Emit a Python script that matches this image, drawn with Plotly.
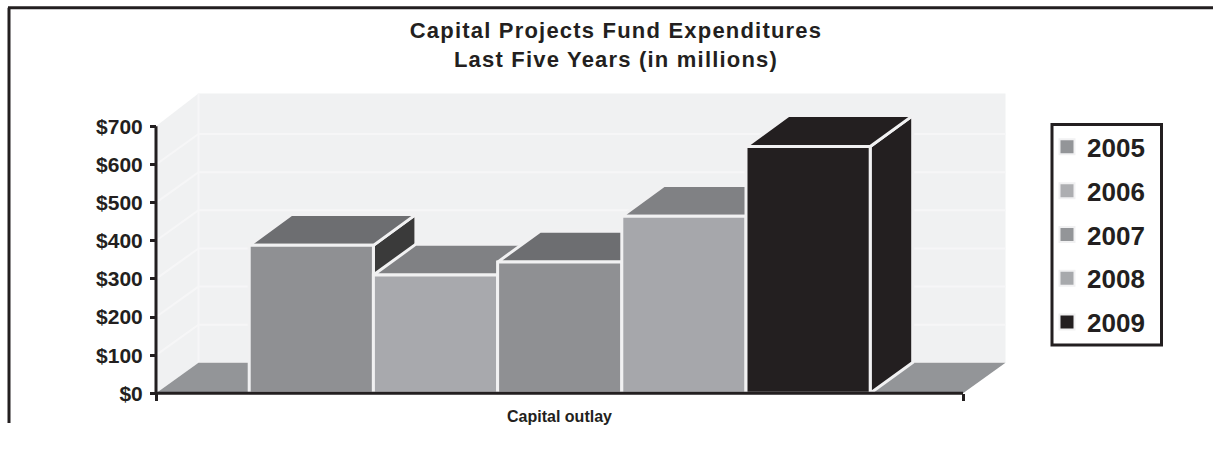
import plotly.graph_objects as go

# --- data ---
years = ["2005", "2006", "2007", "2008", "2009"]
values = [388, 310, 344, 464, 647]
y_ticks = [0, 100, 200, 300, 400, 500, 600, 700]
y_tick_labels = ["$0", "$100", "$200", "$300", "$400", "$500", "$600", "$700"]
category = "Capital outlay"

front_colors = ["#8f9093", "#a8a9ad", "#8f9093", "#a6a7ab", "#231f20"]
top_colors = ["#6d6e71", "#808184", "#6d6e71", "#808184", "#231f20"]
side_colors = ["#3a3a3a", "#3a3a3a", "#3a3a3a", "#3a3a3a", "#231f20"]
legend_colors = ["#939598", "#adaeb1", "#939598", "#a7a9ac", "#231f20"]

# --- geometry in axis units (x: category width = 1; y: dollars) ---
W, H = 1213, 451
X0_PX, X1_PX, Y0_PX, PX_PER_DOLLAR = 156, 963, 393.3, 0.382
PLOT_L, PLOT_R, PLOT_T, PLOT_B = 146, 1010, 90.5, 403
PX_PER_X = X1_PX - X0_PX
x_range = [(PLOT_L - X0_PX) / PX_PER_X, (PLOT_R - X0_PX) / PX_PER_X]
y_range = [(Y0_PX - PLOT_B) / PX_PER_DOLLAR, (Y0_PX - PLOT_T) / PX_PER_DOLLAR]
DX = 42.5 / PX_PER_X
DY = 30.5 / PX_PER_DOLLAR
BAR_DY = 31 / PX_PER_DOLLAR
GROUP_LEFT = 0.1155
BAR_W = 0.1539
WALL_TOP = 700 + 33 / PX_PER_DOLLAR
INK = "#231f20"
WALL = "#f0f1f2"
EDGE = "#f1f1f2"
GRID = "#f6f6f7"
FLOOR = "#939598"


def px(x):
    return (x - PLOT_L) / (PLOT_R - PLOT_L)


def py(y):
    return (PLOT_B - y) / (PLOT_B - PLOT_T)


traces = []


def poly(xs, ys, fill, line=None, width=3):
    traces.append(go.Scatter(
        x=list(xs) + [xs[0]], y=list(ys) + [ys[0]], mode="lines", fill="toself",
        fillcolor=fill, line=dict(color=line or fill, width=width),
        showlegend=False, hoverinfo="skip"))


def path(xs, ys, color, width):
    traces.append(go.Scatter(
        x=xs, y=ys, mode="lines", line=dict(color=color, width=width),
        showlegend=False, hoverinfo="skip"))


# walls and floor
poly([DX, 1 + DX, 1 + DX, DX], [DY, DY, WALL_TOP, WALL_TOP], WALL, width=0)
poly([0, DX, DX, 0], [0, DY, WALL_TOP, 700], WALL, width=0)
for t in y_ticks[1:-1]:
    path([0, DX, 1 + DX], [t, t + DY, t + DY], GRID, 2)
path([DX, DX], [DY, WALL_TOP], GRID, 2)
poly([0, DX, 1 + DX, 1], [0, DY, DY, 0], FLOOR, width=0)

# bars: painted left to right so nearer faces cover earlier ones
for i, v in enumerate(values):
    a = GROUP_LEFT + i * BAR_W
    b = a + BAR_W
    poly([b, b + DX, b + DX, b], [0, BAR_DY, v + BAR_DY, v], side_colors[i], EDGE)
    poly([a, a + DX, b + DX, b], [v, v + BAR_DY, v + BAR_DY, v], top_colors[i], EDGE)
    poly([a, b, b, a], [0, 0, v, v], front_colors[i], EDGE)

# axis lines drawn to match the ticks' extent
path([0, 0], [0, 700], INK, 3)
path([0, 1], [0, 0], INK, 3)

# legend entries
for i, year in enumerate(years):
    traces.append(go.Scatter(
        x=[None], y=[None], mode="markers", name=year, legendgroup=year,
        marker=dict(symbol="square", size=15, color=legend_colors[i],
                    line=dict(color="#f1f1f2", width=2))))

fig = go.Figure(traces)
fig.update_layout(
    width=W, height=H, autosize=False,
    margin=dict(l=PLOT_L, r=W - PLOT_R, t=PLOT_T, b=H - PLOT_B, pad=0),
    paper_bgcolor="white", plot_bgcolor="white",
    font=dict(family="Liberation Sans, Arial, sans-serif", color=INK),
    title=dict(
        text="<b>Capital Projects Fund Expenditures<br>Last Five Years (in millions)</b>",
        x=616 / W, xanchor="center", xref="container",
        y=1 - 38 / H, yanchor="top", yref="container",
        font=dict(size=22, color=INK)),
    xaxis=dict(
        range=x_range, showgrid=False, zeroline=False, showline=False,
        anchor="free", position=py(Y0_PX),
        tickmode="array", tickvals=[0.5], ticktext=[f"<b>{category}</b>"],
        ticks="outside", ticklen=8, tickcolor="rgba(0,0,0,0)",
        tickfont=dict(size=16, color=INK),
        minor=dict(tickmode="array", tickvals=[0, 1], ticks="outside", ticklen=7,
                   tickwidth=3, tickcolor=INK, showgrid=False)),
    yaxis=dict(
        range=y_range, showgrid=False, zeroline=False, showline=False,
        anchor="free", position=px(X0_PX),
        tickmode="array", tickvals=y_ticks,
        ticktext=[f"<b>{t}</b>" for t in y_tick_labels],
        ticks="outside", ticklen=6, tickwidth=3, tickcolor=INK,
        ticklabelstandoff=3,
        tickfont=dict(size=21, color=INK)),
    legend=dict(
        x=px(1047), y=py(123), xanchor="left", yanchor="top",
        borderwidth=0, bgcolor="rgba(0,0,0,0)",
        font=dict(size=26, color=INK, weight="bold"),
        tracegroupgap=7, traceorder="grouped", itemsizing="trace"),
    shapes=[
        dict(type="line", xref="paper", yref="paper",
             x0=px(8), x1=px(W), y0=py(7), y1=py(7), line=dict(color=INK, width=3)),
        dict(type="line", xref="paper", yref="paper",
             x0=px(9), x1=px(9), y0=py(7), y1=py(423), line=dict(color=INK, width=3)),
        dict(type="rect", xref="paper", yref="paper",
             x0=px(1052), x1=px(1161.5), y0=py(124), y1=py(345), line=dict(color=INK, width=3)),
    ],
)
fig.write_html(
    "out.html",
    config={"displayModeBar": False},
    post_script=(
        "document.body.style.margin='0';document.body.style.overflow='hidden';"
        "document.querySelectorAll('.gtitle').forEach(function(e){e.style.letterSpacing='1.2px';});"
    ),
)
